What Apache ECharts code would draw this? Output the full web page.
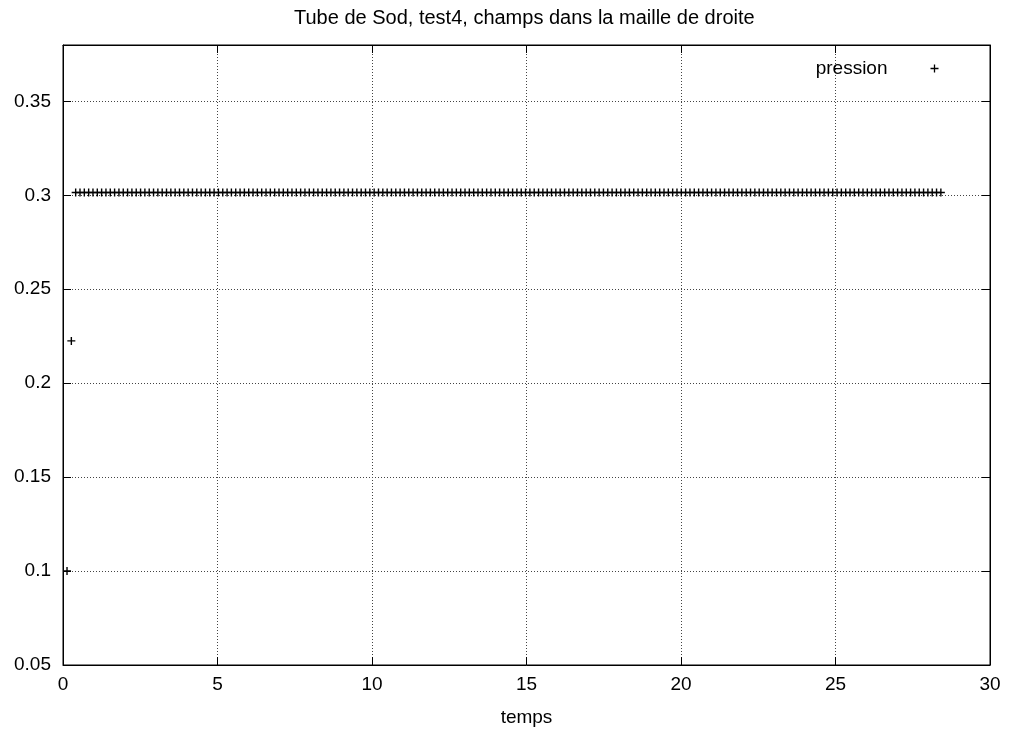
<!DOCTYPE html>
<html>
<head>
<meta charset="utf-8">
<script src="https://cdn.jsdelivr.net/npm/echarts@6/dist/echarts.min.js"></script>
<style>html,body{margin:0;padding:0;background:#fff;}#c{width:1010px;height:733px;}</style>
</head>
<body>
<div id="c"></div>
<script>
var titleText = 'Tube de Sod, test4, champs dans la maille de droite';
var xName = 'temps';
var seriesName = 'pression';
var temps = [
0.13,0.27,0.41,0.55,0.69,0.83,0.97,1.11,1.25,1.39,1.53,1.67,1.81,1.95,2.09,2.23,2.37,2.51,2.65,2.79,2.93,3.07,3.21,3.35,3.49,3.63,3.77,3.91,4.05,4.19,4.33,4.47,4.61,4.75,4.89,5.03,5.17,5.31,5.45,5.59,5.73,5.87,6.01,6.15,6.29,6.43,6.57,6.71,6.85,6.99,
7.13,7.27,7.41,7.55,7.69,7.83,7.97,8.11,8.25,8.39,8.53,8.67,8.81,8.95,9.09,9.23,9.37,9.51,9.65,9.79,9.93,10.07,10.21,10.35,10.49,10.63,10.77,10.91,11.05,11.19,11.33,11.47,11.61,11.75,11.89,12.03,12.17,12.31,12.45,12.59,12.73,12.87,13.01,13.15,13.29,13.43,13.57,13.71,13.85,13.99,
14.13,14.27,14.41,14.55,14.69,14.83,14.97,15.11,15.25,15.39,15.53,15.67,15.81,15.95,16.09,16.23,16.37,16.51,16.65,16.79,16.93,17.07,17.21,17.35,17.49,17.63,17.77,17.91,18.05,18.19,18.33,18.47,18.61,18.75,18.89,19.03,19.17,19.31,19.45,19.59,19.73,19.87,20.01,20.15,20.29,20.43,20.57,20.71,20.85,20.99,
21.13,21.27,21.41,21.55,21.69,21.83,21.97,22.11,22.25,22.39,22.53,22.67,22.81,22.95,23.09,23.23,23.37,23.51,23.65,23.79,23.93,24.07,24.21,24.35,24.49,24.63,24.77,24.91,25.05,25.19,25.33,25.47,25.61,25.75,25.89,26.03,26.17,26.31,26.45,26.59,26.73,26.87,27.01,27.15,27.29,27.43,27.57,27.71,27.85,27.99,
28.13,28.27,28.41
];
var pression = [
0.1,0.2225,0.3015,0.3015,0.3015,0.3015,0.3015,0.3015,0.3015,0.3015,0.3015,0.3015,0.3015,0.3015,0.3015,0.3015,0.3015,0.3015,0.3015,0.3015,0.3015,0.3015,0.3015,0.3015,0.3015,0.3015,0.3015,0.3015,0.3015,0.3015,0.3015,0.3015,0.3015,0.3015,0.3015,0.3015,0.3015,0.3015,0.3015,0.3015,0.3015,0.3015,0.3015,0.3015,0.3015,0.3015,0.3015,0.3015,0.3015,0.3015,
0.3015,0.3015,0.3015,0.3015,0.3015,0.3015,0.3015,0.3015,0.3015,0.3015,0.3015,0.3015,0.3015,0.3015,0.3015,0.3015,0.3015,0.3015,0.3015,0.3015,0.3015,0.3015,0.3015,0.3015,0.3015,0.3015,0.3015,0.3015,0.3015,0.3015,0.3015,0.3015,0.3015,0.3015,0.3015,0.3015,0.3015,0.3015,0.3015,0.3015,0.3015,0.3015,0.3015,0.3015,0.3015,0.3015,0.3015,0.3015,0.3015,0.3015,
0.3015,0.3015,0.3015,0.3015,0.3015,0.3015,0.3015,0.3015,0.3015,0.3015,0.3015,0.3015,0.3015,0.3015,0.3015,0.3015,0.3015,0.3015,0.3015,0.3015,0.3015,0.3015,0.3015,0.3015,0.3015,0.3015,0.3015,0.3015,0.3015,0.3015,0.3015,0.3015,0.3015,0.3015,0.3015,0.3015,0.3015,0.3015,0.3015,0.3015,0.3015,0.3015,0.3015,0.3015,0.3015,0.3015,0.3015,0.3015,0.3015,0.3015,
0.3015,0.3015,0.3015,0.3015,0.3015,0.3015,0.3015,0.3015,0.3015,0.3015,0.3015,0.3015,0.3015,0.3015,0.3015,0.3015,0.3015,0.3015,0.3015,0.3015,0.3015,0.3015,0.3015,0.3015,0.3015,0.3015,0.3015,0.3015,0.3015,0.3015,0.3015,0.3015,0.3015,0.3015,0.3015,0.3015,0.3015,0.3015,0.3015,0.3015,0.3015,0.3015,0.3015,0.3015,0.3015,0.3015,0.3015,0.3015,0.3015,0.3015,
0.3015,0.3015,0.3015
];
var xTicks = {min: 0, max: 30, interval: 5};
var yTicks = {min: 0.05, max: 0.38, interval: 0.05};

var font = 'Liberation Sans, Arial, Helvetica, sans-serif';
var plusPath = 'path://M0,5L10,5M5,0L5,10';
var data = temps.map(function (t, i) { return [t, pression[i]]; });

function yFmt(v) {
  var r = Math.round(v / 0.05);
  if (Math.abs(v - r * 0.05) > 1e-9) return '';
  return String(+v.toFixed(2));
}

var chart = echarts.init(document.getElementById('c'), null, {renderer: 'canvas'});
chart.setOption({
  backgroundColor: '#fff',
  animation: false,
  title: {
    text: titleText, left: 289, top: 3,
    textStyle: {fontFamily: font, fontSize: 20, fontWeight: 'normal', color: '#000'}
  },
  legend: {
    right: 64, top: 54, align: 'right', orient: 'vertical',
    itemWidth: 8, itemHeight: 8,
    icon: plusPath,
    data: [{name: seriesName, icon: plusPath, itemStyle: {color: 'none', borderColor: '#000', borderWidth: 1.3}}],
    textStyle: {fontFamily: font, fontSize: 19, color: '#000', padding: [0, 38, 0, 0]}
  },
  grid: {left: 63, right: 20, top: 45, bottom: 68, show: true, borderColor: '#000', borderWidth: 1, backgroundColor: 'transparent'},
  xAxis: [{
    type: 'value', min: xTicks.min, max: xTicks.max, interval: xTicks.interval, position: 'bottom',
    name: xName, nameLocation: 'middle', nameGap: 43,
    nameTextStyle: {fontFamily: font, fontSize: 19, color: '#000'},
    axisLine: {show: true, onZero: false, lineStyle: {color: '#000', width: 1}},
    axisTick: {show: true, inside: true, length: 8, lineStyle: {color: '#000'}},
    axisLabel: {fontFamily: font, fontSize: 19, color: '#000', margin: 10},
    splitLine: {show: true, lineStyle: {color: '#444', type: [1, 2], width: 1}}
  }, {
    type: 'value', min: xTicks.min, max: xTicks.max, interval: xTicks.interval, position: 'top',
    axisLine: {show: true, onZero: false, lineStyle: {color: '#000'}},
    axisTick: {show: true, inside: true, length: 8, lineStyle: {color: '#000'}},
    axisLabel: {show: false}, splitLine: {show: false}
  }],
  yAxis: [{
    type: 'value', min: yTicks.min, max: yTicks.max, interval: yTicks.interval, position: 'left',
    axisLine: {show: true, onZero: false, lineStyle: {color: '#000', width: 1}},
    axisTick: {show: true, inside: true, length: 8, lineStyle: {color: '#000'}},
    axisLabel: {fontFamily: font, fontSize: 19, color: '#000', margin: 12, showMaxLabel: false, formatter: yFmt},
    splitLine: {show: true, lineStyle: {color: '#444', type: [1, 2], width: 1}}
  }, {
    type: 'value', min: yTicks.min, max: yTicks.max, interval: yTicks.interval, position: 'right',
    axisLine: {show: true, onZero: false, lineStyle: {color: '#000'}},
    axisTick: {show: true, inside: true, length: 8, lineStyle: {color: '#000'}},
    axisLabel: {show: false}, splitLine: {show: false}
  }],
  series: [{
    name: seriesName, type: 'scatter', xAxisIndex: 0, yAxisIndex: 0,
    symbol: plusPath, symbolSize: 8,
    itemStyle: {color: 'none', borderColor: '#000', borderWidth: 1.4, opacity: 1},
    data: data
  }]
});
</script>
</body>
</html>
